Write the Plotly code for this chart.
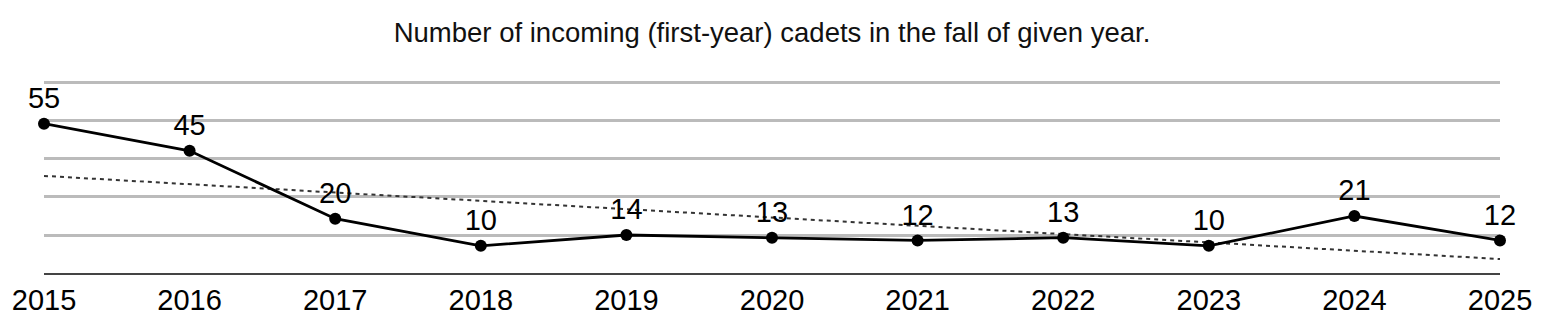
import plotly.graph_objects as go
import numpy as np

years = [2015, 2016, 2017, 2018, 2019, 2020, 2021, 2022, 2023, 2024, 2025]
cadets = [55, 45, 20, 10, 14, 13, 12, 13, 10, 21, 12]
grid_vals = [14, 28, 42, 56, 70]
title_text = "Number of incoming (first-year) cadets in the fall of given year."

# linear trend (least squares)
slope, intercept = np.polyfit(years, cadets, 1)
trend = [slope * y + intercept for y in years]

FONT = "Liberation Sans, Arial, Helvetica, sans-serif"

fig = go.Figure()
fig.add_trace(go.Scatter(
    x=years, y=trend, mode="lines",
    line=dict(color="#333333", width=2, dash="4px,4px"),
    hoverinfo="skip", showlegend=False,
))
fig.add_trace(go.Scatter(
    x=years, y=cadets, mode="lines+markers+text",
    line=dict(color="black", width=2.8),
    marker=dict(color="black", size=12),
    text=[str(v) for v in cadets],
    textposition="top center",
    textfont=dict(family=FONT, size=29, color="black"),
    showlegend=False, cliponaxis=False,
))

fig.update_layout(
    width=1544, height=328,
    margin=dict(l=41, r=44, t=80, b=54),
    paper_bgcolor="white", plot_bgcolor="white",
    font=dict(family=FONT, color="black"),
    title=dict(text=title_text, x=0.5, xanchor="center", y=1 - 32 / 328, yanchor="middle",
               font=dict(family=FONT, size=27.5, color="#111111")),
    xaxis=dict(
        range=[2015, 2025], tickmode="array", tickvals=years,
        ticktext=[str(y) for y in years],
        showgrid=False, zeroline=False,
        showline=True, linecolor="#444444", linewidth=2,
        ticks="", tickfont=dict(family=FONT, size=29, color="black"),
    ),
    yaxis=dict(
        range=[0, 71.1], tickmode="array", tickvals=grid_vals,
        showticklabels=False, showgrid=True, gridcolor="#bbbbbb", gridwidth=3,
        zeroline=False, showline=False,
    ),
)

fig.write_html("out.html")
